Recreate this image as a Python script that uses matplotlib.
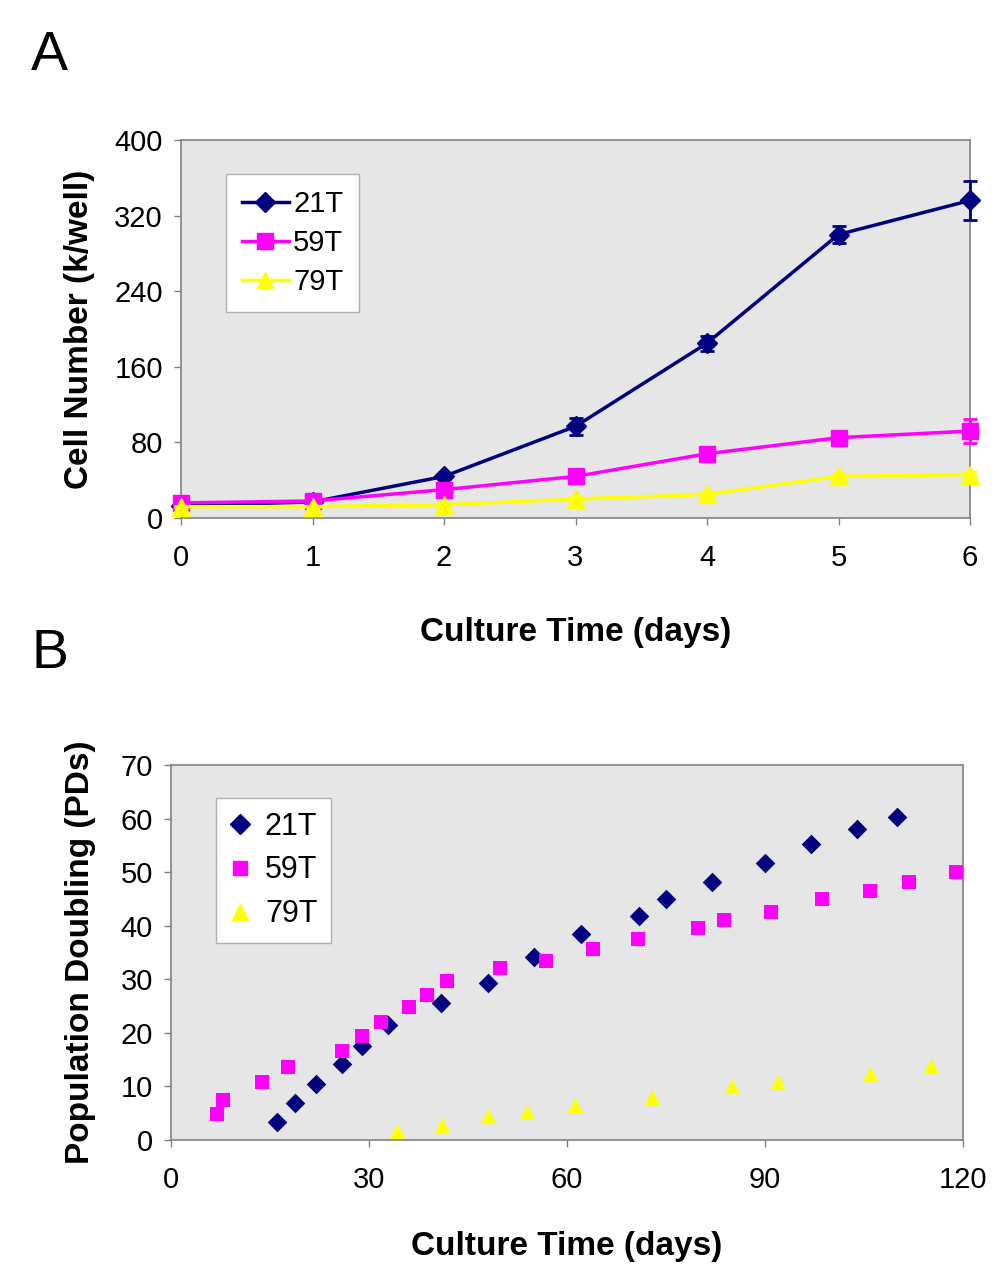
import matplotlib
matplotlib.use("Agg")
import matplotlib.pyplot as plt
from matplotlib.lines import Line2D

plt.rcParams['font.family'] = ['Liberation Sans', 'DejaVu Sans']

# Panel A data
days_a = [0, 1, 2, 3, 4, 5, 6]
a_21t = [13, 17, 44, 97, 185, 300, 336]
a_21t_err = [2, 2, 3, 9, 8, 9, 21]
a_59t = [16, 18, 30, 44, 68, 85, 92]
a_59t_err = [2, 2, 3, 3, 4, 5, 13]
a_79t = [12, 12, 14, 20, 25, 44, 46]
a_79t_err = [1, 1, 2, 2, 2, 3, 3]
a_yticks = [0, 80, 160, 240, 320, 400]

# Panel B data
b_21t_x = [16.0, 18.8, 22.0, 25.9, 29.0, 32.9, 40.9, 48.1, 55.0, 62.1, 70.9, 75.0, 82.0, 90.0, 96.9, 104.0, 110.0]
b_21t_y = [3.4, 7.0, 10.5, 14.2, 17.6, 21.5, 25.6, 29.4, 34.2, 38.4, 41.9, 45.0, 48.2, 51.7, 55.2, 58.1, 60.3]
b_59t_x = [7.0, 7.9, 13.8, 17.8, 25.9, 28.9, 31.8, 36.0, 38.8, 41.8, 49.9, 56.8, 63.9, 70.8, 79.8, 83.8, 90.9, 98.7, 105.9, 111.8, 118.9]
b_59t_y = [4.9, 7.5, 10.9, 13.7, 16.7, 19.5, 22.0, 24.9, 27.1, 29.6, 32.2, 33.4, 35.6, 37.5, 39.5, 41.1, 42.6, 44.9, 46.4, 48.1, 50.0]
b_79t_x = [34.2, 41.0, 48.1, 54.0, 61.2, 72.9, 85.0, 92.0, 105.9, 115.1]
b_79t_y = [1.6, 2.8, 4.4, 5.3, 6.6, 8.1, 10.1, 10.75, 12.4, 13.75]
b_xticks = [0, 30, 60, 90, 120]
b_yticks = [0, 10, 20, 30, 40, 50, 60, 70]

NAVY = '#000080'
MAGENTA = '#FF00FF'
YELLOW = '#FFFF00'
BG = '#E6E6E6'
SPINE = '#808080'

W, H = 1006, 1280
fig = plt.figure(figsize=(W / 100, H / 100), dpi=100)

def frac(l, r, t, b):
    return [l / W, 1 - b / H, (r - l) / W, (b - t) / H]

def style(ax):
    ax.set_facecolor(BG)
    for s in ax.spines.values():
        s.set_color(SPINE)
        s.set_linewidth(1.2)
    ax.tick_params(axis='both', direction='out', length=5, width=1, color=SPINE,
                   labelsize=21)
    ax.tick_params(axis='x', pad=14)
    ax.tick_params(axis='y', pad=8)

# ---- Panel A ----
axA = fig.add_axes(frac(181, 970, 140, 518))
style(axA)
ebkw = dict(lw=2.5, capsize=5, elinewidth=2, capthick=2, clip_on=False)
axA.errorbar(days_a, a_21t, yerr=a_21t_err, color=NAVY, marker='D', ms=10, zorder=3, **ebkw)
axA.errorbar(days_a, a_59t, yerr=a_59t_err, color=MAGENTA, marker='s', ms=12, zorder=4, **ebkw)
axA.errorbar(days_a, a_79t, yerr=a_79t_err, color=YELLOW, marker='^', ms=13, zorder=5, **ebkw)
axA.set_xlim(0, 6)
axA.set_ylim(0, 400)
axA.set_yticks(a_yticks)
axA.set_xticks(days_a)
axA.set_ylabel('Cell Number (k/well)', fontsize=24, fontweight='bold', labelpad=14)
axA.set_xlabel('Culture Time (days)', fontsize=24, fontweight='bold', labelpad=32)
handlesA = [Line2D([], [], color=NAVY, lw=2.5, marker='D', ms=10),
            Line2D([], [], color=MAGENTA, lw=2.5, marker='s', ms=11),
            Line2D([], [], color=YELLOW, lw=2.5, marker='^', ms=12)]
legA = axA.legend(handlesA, ['21T', '59T', '79T'], loc='upper left',
                  bbox_to_anchor=(45 / 789, (518 - 174) / 378), fontsize=21,
                  frameon=True, fancybox=False, edgecolor='#B0B0B0', facecolor='white',
                  framealpha=1, handlelength=1.6, handletextpad=0.15, labelspacing=0.38,
                  borderpad=0.55, borderaxespad=0)
legA.get_frame().set_linewidth(1)
fig.text(31 / W, 1 - 70 / H, 'A', fontsize=40)

# ---- Panel B ----
axB = fig.add_axes(frac(171, 963, 765, 1140))
style(axB)
axB.scatter(b_21t_x, b_21t_y, marker='D', s=100, color=NAVY, zorder=3, linewidths=0)
axB.scatter(b_59t_x, b_59t_y, marker='s', s=95, color=MAGENTA, zorder=3, linewidths=0, clip_on=False)
axB.scatter(b_79t_x, b_79t_y, marker='^', s=120, color=YELLOW, zorder=3, linewidths=0)
axB.set_xlim(0, 120)
axB.set_ylim(0, 70)
axB.set_xticks(b_xticks)
axB.set_yticks(b_yticks)
axB.set_ylabel('Population Doubling (PDs)', fontsize=24, fontweight='bold', labelpad=18)
axB.set_xlabel('Culture Time (days)', fontsize=24, fontweight='bold', labelpad=26)
handlesB = [Line2D([], [], ls='none', color=NAVY, marker='D', ms=10),
            Line2D([], [], ls='none', color=MAGENTA, marker='s', ms=10),
            Line2D([], [], ls='none', color=YELLOW, marker='^', ms=11)]
legB = axB.legend(handlesB, ['21T', '59T', '79T'], loc='upper left',
                  bbox_to_anchor=(45 / 792, (1140 - 798) / 375), fontsize=22,
                  frameon=True, fancybox=False, edgecolor='#B0B0B0', facecolor='white',
                  framealpha=1, handlelength=0.7, handletextpad=0.45, labelspacing=0.45,
                  borderpad=0.45, borderaxespad=0)
legB.get_frame().set_linewidth(1)
fig.text(31 / W, 1 - 668 / H, 'B', fontsize=40)

fig.savefig('out.png', dpi=100)
